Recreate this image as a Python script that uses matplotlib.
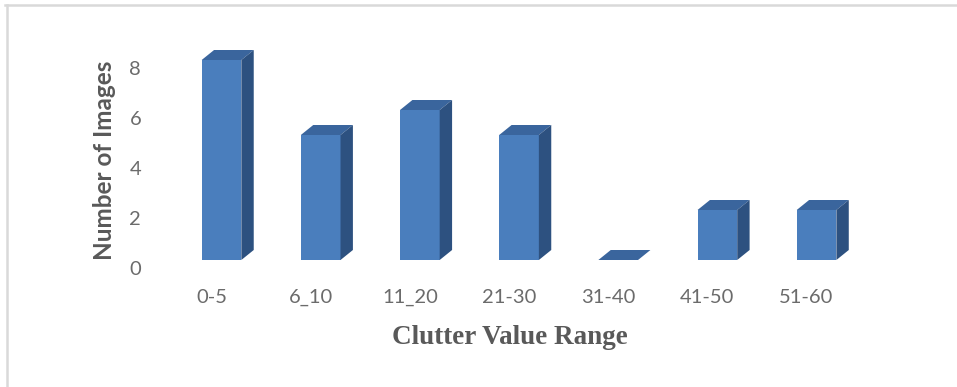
import matplotlib
matplotlib.use("Agg")
import matplotlib.pyplot as plt
from matplotlib.patches import Polygon
from matplotlib.lines import Line2D
from matplotlib.transforms import ScaledTranslation

categories = ["0-5", "6_10", "11_20", "21-30", "31-40", "41-50", "51-60"]
values = [8, 5, 6, 5, 0, 2, 2]
yticks = [0, 2, 4, 6, 8]

FRONT = "#4a7ebd"
TOP = "#3a659d"
SIDE = "#2d5180"
TXT = "#595959"
TICK = "#6b6b6b"

W, H = 957, 387
fig = plt.figure(figsize=(W / 100, H / 100), dpi=100)
fig.patch.set_facecolor("white")

# axes placement (pixel-derived)
x0px, x1px = 162.0, 905.8
ybot_px, ytop_px = 260.0, 40.0
ax = fig.add_axes([x0px / W, (H - ybot_px) / H, (x1px - x0px) / W, (ybot_px - ytop_px) / H])
ax.set_xlim(-0.6, 6.9)
ax.set_ylim(0, 8.8)

bw = 0.40
dx, dy = 0.125, 0.40
xs = list(range(len(categories)))
ax.bar(xs, values, width=bw, color=FRONT, edgecolor="none", zorder=2)
for x, v in zip(xs, values):
    l, r = x - bw / 2, x + bw / 2
    top = Polygon([(l, v), (r, v), (r + dx, v + dy), (l + dx, v + dy)],
                  closed=True, facecolor=TOP, edgecolor="none", zorder=3)
    ax.add_patch(top)
    if v > 0:
        side = Polygon([(r, 0), (r + dx, dy), (r + dx, v + dy), (r, v)],
                       closed=True, facecolor=SIDE, edgecolor="none", zorder=3)
        ax.add_patch(side)

for s in ax.spines.values():
    s.set_visible(False)
ax.set_xticks(xs)
ax.set_xticklabels(categories, fontfamily="Lato", fontsize=14.5, color=TICK)
ax.set_yticks(yticks)
ax.set_yticklabels([str(t) for t in yticks], fontfamily="Lato", fontsize=14.5, color=TICK)
ax.tick_params(axis="both", length=0)
ax.tick_params(axis="x", pad=21)
ax.tick_params(axis="y", pad=15)
for lab in ax.get_xticklabels():
    lab.set_transform(lab.get_transform() + ScaledTranslation(-0.10, 0, fig.dpi_scale_trans))
for lab in ax.get_yticklabels():
    lab.set_transform(lab.get_transform() + ScaledTranslation(0, -0.08, fig.dpi_scale_trans))

fig.text(510 / W, 1 - 337 / H, "Clutter Value Range", fontfamily="Liberation Serif",
         fontweight="bold", fontsize=19.5, color=TXT, ha="center", va="center")
fig.text(105 / W, 1 - 160 / H, "Number of Images", fontfamily="Lato",
         fontweight="bold", fontsize=17.5, color=TXT, ha="center", va="center", rotation=90)

# light frame lines (top and left)
fig.add_artist(Line2D([5 / W, 1], [1 - 5 / H, 1 - 5 / H], transform=fig.transFigure,
                      color="#d9d9d9", linewidth=1.8))
fig.add_artist(Line2D([7 / W, 7 / W], [0, 1 - 5 / H], transform=fig.transFigure,
                      color="#d9d9d9", linewidth=1.8))

fig.savefig("out.png", dpi=100, facecolor="white")
